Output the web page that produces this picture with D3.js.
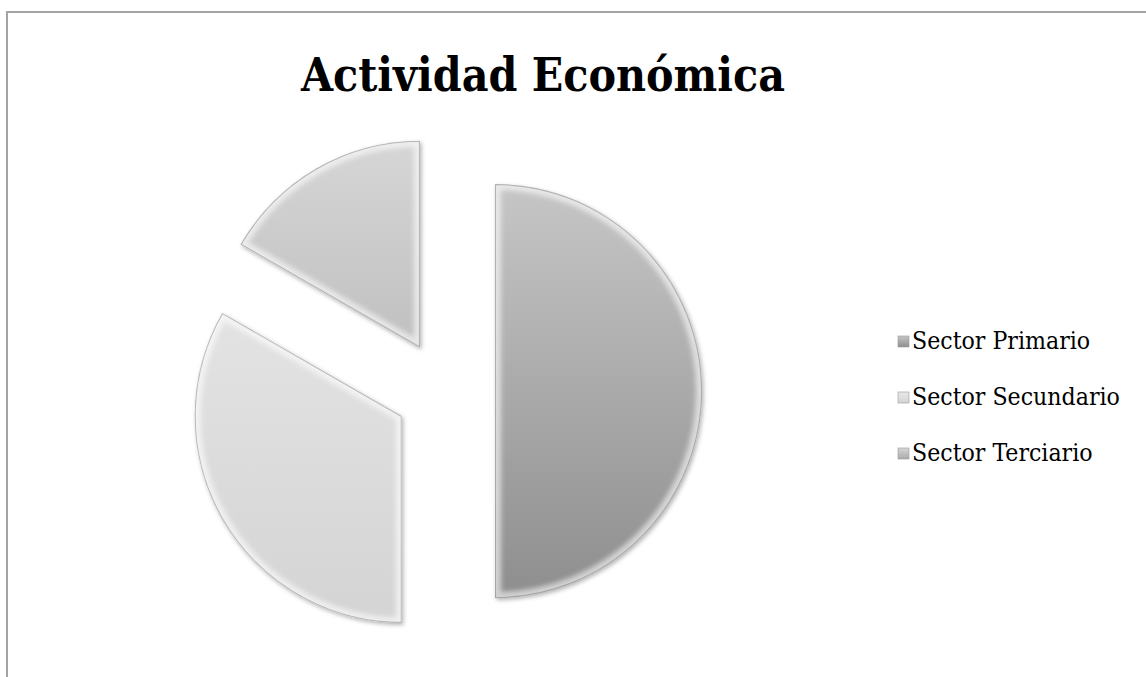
<!DOCTYPE html>
<html>
<head>
<meta charset="utf-8">
<script src="https://cdn.jsdelivr.net/npm/d3@7"></script>
<style>
  html, body { margin: 0; padding: 0; background: #ffffff; }
  svg { display: block; }
</style>
</head>
<body>
<svg id="chart" width="1146" height="677"></svg>
<script>
// ---- data ----
const categories = ["Sector Primario", "Sector Secundario", "Sector Terciario"];
const values = [50, 33.3, 16.7];
const title = "Actividad Económica";

// ---- styles ----
const topColors = ["#c6c6c6", "#e8e8e8", "#d6d6d6"];
const bottomColors = ["#8e8e8e", "#d4d4d4", "#aaaaaa"];
const FONT = "'DejaVu Serif Condensed', 'DejaVu Serif', serif";

const W = 1146, H = 677;
const svg = d3.select("#chart");

// border
svg.append("path")
  .attr("d", `M7,${H} L7,12 L${W},12`)
  .attr("fill", "none")
  .attr("stroke", "#a3a3a3")
  .attr("stroke-width", 2);

// fit helper: adjust font size so text spans target width
function fit(sel, target) {
  const w = sel.node().getComputedTextLength();
  const fs = parseFloat(sel.attr("font-size"));
  if (w > 0) sel.attr("font-size", fs * target / w);
}

// title
const t = svg.append("text")
  .attr("x", 543).attr("y", 91)
  .attr("text-anchor", "middle")
  .attr("font-family", FONT)
  .attr("font-weight", "bold")
  .attr("font-size", 40)
  .attr("fill", "#000")
  .text(title);
fit(t, 484);

const defs = svg.append("defs");

const cx = 445, cy = 391, R = 207, explode = 50;

const pie = d3.pie().sort(null).value(d => d).startAngle(0).endAngle(2 * Math.PI);
const arcs = pie(values);
const arc = d3.arc().innerRadius(0).outerRadius(R);

arcs.forEach((a, i) => {
  const g = defs.append("linearGradient")
    .attr("id", "grad" + i)
    .attr("gradientUnits", "userSpaceOnUse")
    .attr("x1", 0).attr("y1", -R).attr("x2", 0).attr("y2", R);
  g.append("stop").attr("offset", "0%").attr("stop-color", topColors[i]);
  g.append("stop").attr("offset", "100%").attr("stop-color", bottomColors[i]);

  const lg = defs.append("linearGradient")
    .attr("id", "lgrad" + i)
    .attr("x1", 0).attr("y1", 0).attr("x2", 0).attr("y2", 1);
  lg.append("stop").attr("offset", "0%").attr("stop-color", topColors[i]);
  lg.append("stop").attr("offset", "100%").attr("stop-color", bottomColors[i]);
});

const f = defs.append("filter").attr("id", "shadow")
  .attr("x", "-10%").attr("y", "-10%").attr("width", "120%").attr("height", "120%");
f.append("feDropShadow").attr("dx", 1.5).attr("dy", 2).attr("stdDeviation", 2)
  .attr("flood-color", "#000").attr("flood-opacity", 0.3);

const fb = defs.append("filter").attr("id", "bevel");
fb.append("feGaussianBlur").attr("stdDeviation", 2.5);

const pieG = svg.append("g").attr("transform", `translate(${cx},${cy})`);

arcs.forEach((a, i) => {
  const mid = (a.startAngle + a.endAngle) / 2;
  const dx = Math.sin(mid) * explode, dy = -Math.cos(mid) * explode;
  const g = pieG.append("g").attr("transform", `translate(${dx},${dy})`);
  const d = arc(a);
  defs.append("clipPath").attr("id", "clip" + i).append("path").attr("d", d);

  g.append("path")
    .attr("d", d)
    .attr("fill", `url(#grad${i})`)
    .attr("filter", "url(#shadow)");

  const inner = g.append("g").attr("clip-path", `url(#clip${i})`);
  inner.append("path")
    .attr("d", d)
    .attr("fill", "none")
    .attr("stroke", "#ffffff")
    .attr("stroke-opacity", 0.6)
    .attr("stroke-width", 12)
    .attr("filter", "url(#bevel)");
  inner.append("path")
    .attr("d", d)
    .attr("fill", "none")
    .attr("stroke", "#707070")
    .attr("stroke-opacity", 0.45)
    .attr("stroke-width", 2);
});

// legend
const legend = svg.append("g");
const rowY = [342, 398, 454];
categories.forEach((c, i) => {
  legend.append("rect")
    .attr("x", 898).attr("y", rowY[i] - 6)
    .attr("width", 11).attr("height", 11)
    .attr("fill", `url(#lgrad${i})`)
    .attr("stroke", "#9a9a9a").attr("stroke-width", 0.6);
  const tx = legend.append("text")
    .attr("x", 912).attr("y", rowY[i] + 7)
    .attr("font-family", FONT)
    .attr("font-size", 22)
    .attr("fill", "#000")
    .text(c);
  if (i === 1) fit(tx, 208);
});
// same font size for all legend items
const lfs = legend.selectAll("text").filter((d, i) => i === 1).attr("font-size");
legend.selectAll("text").attr("font-size", lfs);
</script>
</body>
</html>
